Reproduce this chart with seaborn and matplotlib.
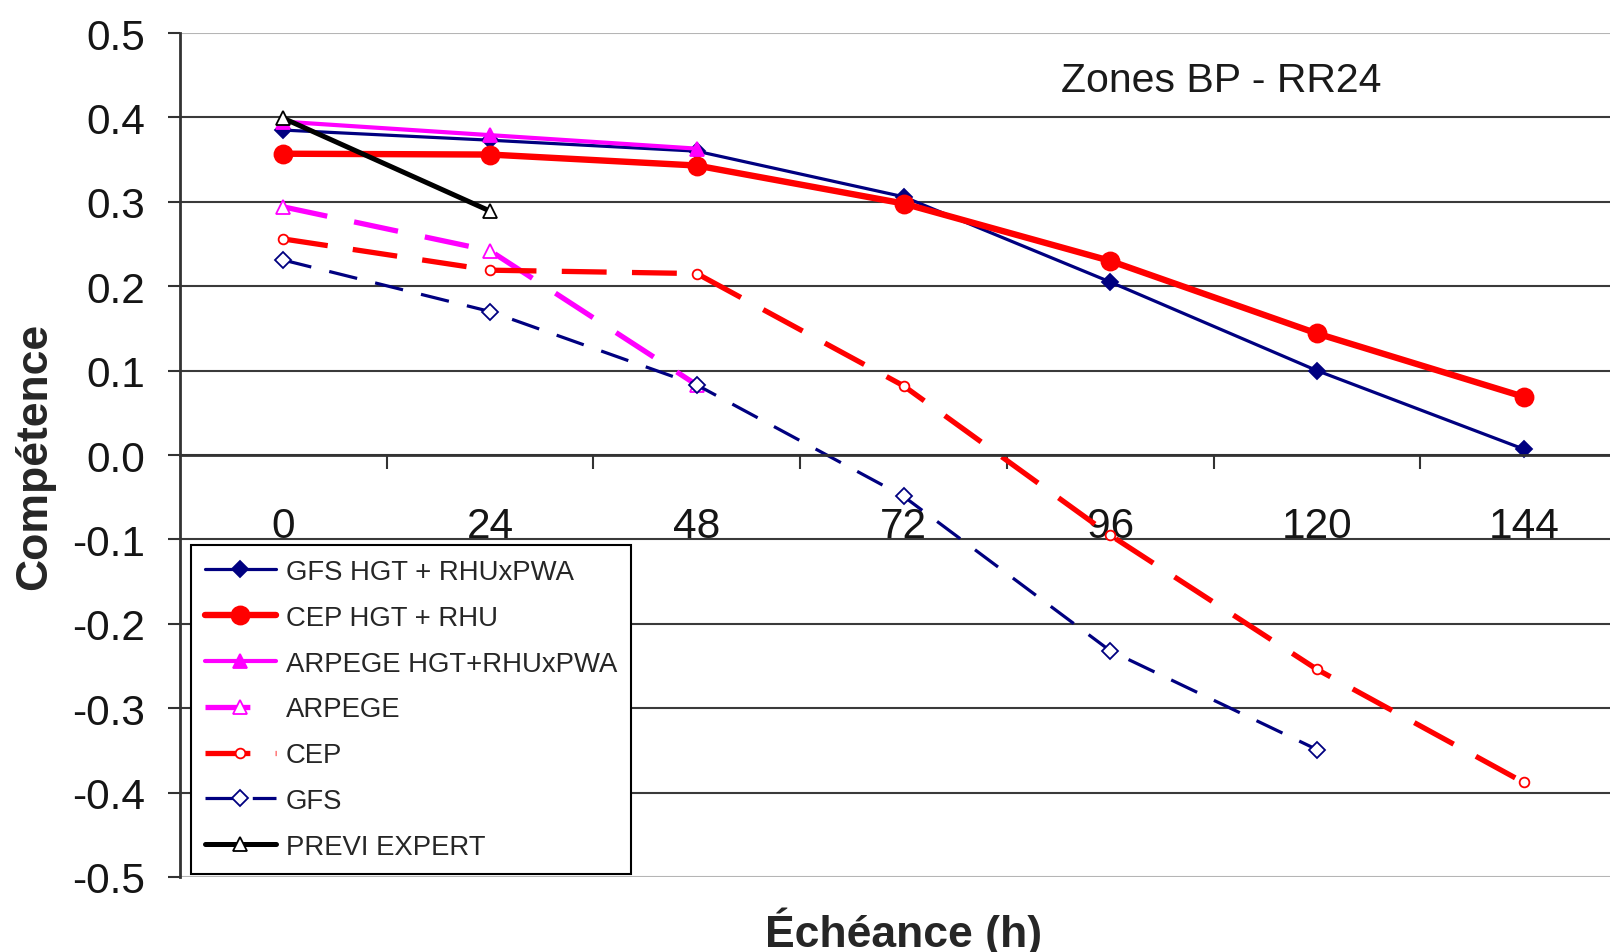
import matplotlib
matplotlib.use("Agg")
import matplotlib.pyplot as plt
from matplotlib.ticker import FormatStrFormatter, NullFormatter
import seaborn as sns

# forecast lead times (h)
hours = [0, 24, 48, 72, 96, 120, 144]
tick_labels = ["0", "24", "48", "72", "96", "120", "144"]
y_ticks = [i / 10 for i in range(-5, 6)]

# skill scores
gfs_hgt_rhuxpwa = [0.385, 0.373, 0.360, 0.306, 0.205, 0.100, 0.007]
cep_hgt_rhu = [0.357, 0.356, 0.343, 0.298, 0.230, 0.144, 0.069]
arpege_hgt_rhuxpwa = [0.395, 0.379, 0.363]
arpege = [0.294, 0.242, 0.083]
cep = [0.256, 0.219, 0.215, 0.082, -0.095, -0.254, -0.388]
gfs = [0.231, 0.170, 0.083, -0.049, -0.232, -0.349]
previ_expert = [0.399, 0.289]

series = [
    ("GFS HGT + RHUxPWA", gfs_hgt_rhuxpwa, dict(color="#000080", linewidth=2.3, linestyle="-",
                                               marker="D", markersize=8, markerfacecolor="#000080")),
    ("CEP HGT + RHU", cep_hgt_rhu, dict(color="#ff0000", linewidth=4.6, linestyle="-",
                                        marker="o", markersize=13, markerfacecolor="#ff0000")),
    ("ARPEGE HGT+RHUxPWA", arpege_hgt_rhuxpwa, dict(color="#ff00ff", linewidth=3.0, linestyle="-",
                                                    marker="^", markersize=10, markerfacecolor="#ff00ff")),
    ("ARPEGE", arpege, dict(color="#ff00ff", linewidth=3.8, linestyle=(0, (8.5, 5.2)),
                            marker="^", markersize=10, markerfacecolor="white")),
    ("CEP", cep, dict(color="#ff0000", linewidth=3.8, linestyle=(0, (8.5, 4.8)),
                      marker="o", markersize=7, markerfacecolor="white")),
    ("GFS", gfs, dict(color="#000080", linewidth=2.3, linestyle=(0, (9.0, 5.8)),
                      marker="D", markersize=8, markerfacecolor="white")),
    ("PREVI EXPERT", previ_expert, dict(color="black", linewidth=3.6, linestyle="-",
                                        marker="^", markersize=10, markerfacecolor="white")),
]

sns.set_theme(style="white")
plt.rcParams["font.family"] = ["Liberation Sans", "DejaVu Sans"]
plt.rcParams["axes.unicode_minus"] = False

fig = plt.figure(figsize=(16.1, 9.53), dpi=100)
ax = fig.add_axes([0.1118, 0.0787, 0.8988, 0.8856])

for name, vals, st in series:
    sns.lineplot(x=hours[:len(vals)], y=vals, ax=ax, label=name,
                 markeredgecolor=st["color"], markeredgewidth=1.3, **st)

ax.set_xlim(-12, 156)
ax.set_ylim(-0.5, 0.5)

# y axis
ax.set_yticks(y_ticks)
ax.yaxis.set_major_formatter(FormatStrFormatter("%.1f"))
ax.tick_params(axis="y", direction="out", length=9, width=1.5, color="#333333",
               pad=16, labelsize=30.5, labelcolor="#151515", left=True)
ax.grid(axis="y", color="#3a3a3a", linewidth=1.5)
ax.grid(axis="x", visible=False)
gl = ax.yaxis.get_gridlines()
gl[0].set_color("#b5b5b5")
gl[-1].set_color("#b5b5b5")

# x axis sits at y = 0, category boundaries as ticks
ax.set_xticks([12, 36, 60, 84, 108, 132])
ax.xaxis.set_major_formatter(NullFormatter())
ax.set_xticks(hours, minor=True)
ax.set_xticklabels(tick_labels, minor=True)
ax.tick_params(axis="x", which="major", direction="out", length=10, width=1.5,
               color="#333333", bottom=True)
ax.tick_params(axis="x", which="minor", length=0, pad=37, labelsize=30.5,
               labelcolor="#151515", bottom=True)

ax.spines["top"].set_visible(False)
ax.spines["right"].set_visible(False)
ax.spines["left"].set_color("#333333")
ax.spines["left"].set_linewidth(2)
ax.spines["bottom"].set_position(("data", 0))
ax.spines["bottom"].set_color("#333333")
ax.spines["bottom"].set_linewidth(2)

ax.set_xlabel("Échéance (h)", fontsize=32, fontweight="bold")
ax.xaxis.set_label_coords(0.5, -0.035)
ax.set_ylabel("Compétence", fontsize=32, fontweight="bold")
ax.yaxis.set_label_coords(-0.086, 0.5)

ax.text(0.609, 0.944, "Zones BP - RR24", transform=ax.transAxes,
        fontsize=29.5, ha="left", va="center", color="#1a1a1a")

ax.legend(loc="upper left", bbox_to_anchor=(0.0076, 0.393), borderaxespad=0,
          frameon=True, fancybox=False, edgecolor="black", framealpha=1,
          fontsize=19.8, handlelength=2.6, labelspacing=0.72, handletextpad=0.35,
          borderpad=0.5)
ax.get_legend().get_frame().set_linewidth(1.5)

fig.savefig("out.png", dpi=100)
